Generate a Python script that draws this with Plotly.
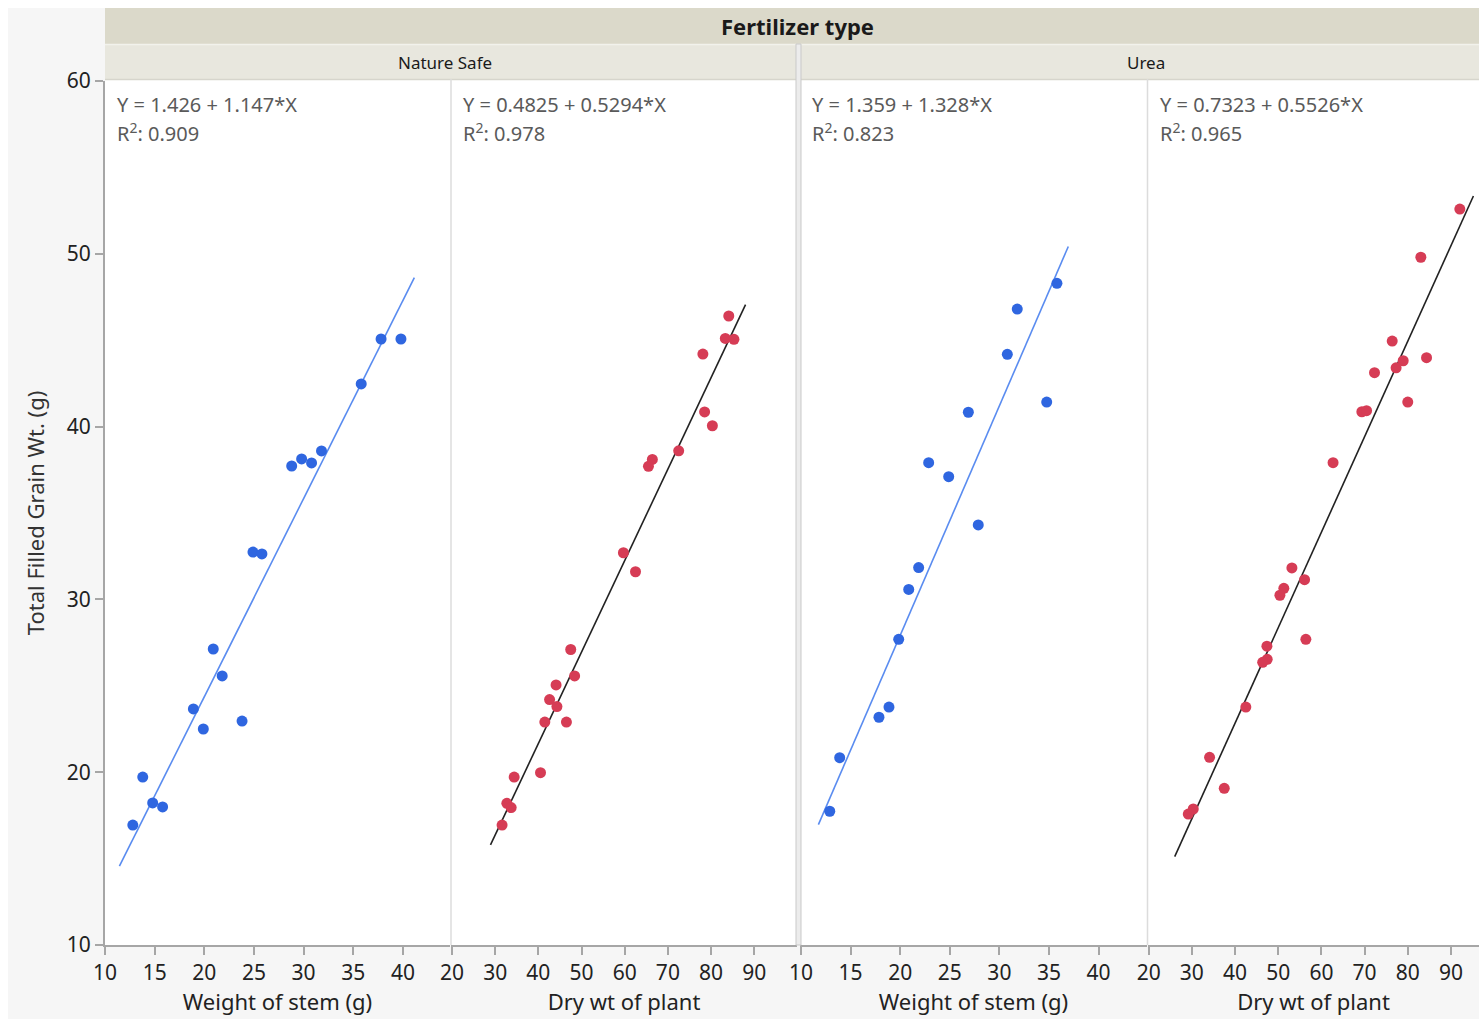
import plotly.graph_objects as go

# ---- data -------------------------------------------------------------
# Nature Safe: weight of stem (g) vs total filled grain weight (g)
ns_stem_x = [12.8, 13.8, 14.8, 15.8, 18.9, 19.9, 20.9, 21.8, 23.8, 24.9, 25.8,
             28.8, 29.8, 30.8, 31.8, 35.8, 37.8, 39.8]
ns_stem_y = [16.94, 19.72, 18.22, 17.99, 23.66, 22.5, 27.13, 25.57, 22.96, 32.74, 32.63,
             37.72, 38.13, 37.9, 38.59, 42.47, 45.07, 45.07]

# Nature Safe: dry weight of plant vs total filled grain weight (g)
ns_dry_x = [84.1, 83.3, 85.3, 78.1, 78.5, 80.3, 72.5, 66.4, 65.5, 59.7, 62.5,
            47.5, 48.4, 44.1, 42.6, 44.3, 41.5, 46.5, 34.4, 40.5, 32.7, 33.7, 31.6]
ns_dry_y = [46.4, 45.1, 45.05, 44.2, 40.85, 40.05, 38.6, 38.1, 37.7, 32.7, 31.6,
            27.1, 25.57, 25.05, 24.2, 23.8, 22.9, 22.9, 19.72, 19.97, 18.2, 17.95, 16.94]

# Urea: weight of stem (g) vs total filled grain weight (g)
ur_stem_x = [35.8, 31.8, 30.8, 34.77, 26.87, 22.87, 24.89, 27.87, 21.86, 20.86,
             19.85, 18.87, 17.86, 13.9, 12.9]
ur_stem_y = [48.29, 46.8, 44.18, 41.42, 40.83, 37.91, 37.1, 34.31, 31.84, 30.58,
             27.69, 23.77, 23.18, 20.84, 17.74]

# Urea: dry weight of plant vs total filled grain weight (g)
ur_dry_x = [92.06, 83.03, 76.4, 84.35, 78.94, 77.3, 72.3, 80.0, 69.37, 70.46, 62.7,
            53.17, 56.1, 51.3, 50.39, 56.4, 47.38, 47.45, 46.4, 42.5, 34.1, 37.5, 30.32, 29.17]
ur_dry_y = [52.59, 49.8, 44.95, 43.99, 43.81, 43.4, 43.12, 41.42, 40.86, 40.92, 37.91,
            31.82, 31.14, 30.64, 30.24, 27.69, 27.29, 26.53, 26.36, 23.77, 20.86, 19.07, 17.87, 17.58]

# Fitted line coefficients (intercept, slope) and R^2 per panel
fit_intercepts = [1.426, 0.4825, 1.359, 0.7323]
fit_slopes = [1.147, 0.5294, 1.328, 0.5526]
fit_r2 = [0.909, 0.978, 0.823, 0.965]
fit_labels = ["Y = 1.426 + 1.147*X", "Y = 0.4825 + 0.5294*X",
              "Y = 1.359 + 1.328*X", "Y = 0.7323 + 0.5526*X"]

group_labels = ["Nature Safe", "Urea"]
header_label = "Fertilizer type"
x_titles = ["Weight of stem (g)", "Dry wt of plant", "Weight of stem (g)", "Dry wt of plant"]
y_title = "Total Filled Grain Wt. (g)"
stem_ticks = [10, 15, 20, 25, 30, 35, 40]
dry_ticks = [20, 30, 40, 50, 60, 70, 80, 90]
y_ticks = [10, 20, 30, 40, 50, 60]

# ---- layout geometry ----------------------------------------------------
W, H = 1479, 1022


def fx(px):
    return px / W


def fy(py):
    return 1 - py / H


TOP, BOTTOM = 81, 945
panel_px = [(105, 450), (451, 797), (800, 1147), (1148, 1479)]
x_ranges = [[10, 44.74], [19.77, 99.9], [9.9, 44.88], [19.84, 96.5]]
x_tickvals = [stem_ticks, dry_ticks, stem_ticks, dry_ticks]

BLUE = "#2f66e0"
RED = "#d63c55"
LINE_BLUE = "#5a8cf0"
LINE_DARK = "#222222"
point_colors = [BLUE, RED, BLUE, RED]
line_colors = [LINE_BLUE, LINE_DARK, LINE_BLUE, LINE_DARK]

series = [(ns_stem_x, ns_stem_y), (ns_dry_x, ns_dry_y),
          (ur_stem_x, ur_stem_y), (ur_dry_x, ur_dry_y)]

fig = go.Figure()
FONT = "Noto Sans"
TICK_SIZE = 21
TITLE_SIZE = 22

for i, (xs, ys) in enumerate(series):
    xa = "x" if i == 0 else f"x{i + 1}"
    # least-squares line drawn over the data span, padded by 5% each side
    lo, hi = min(xs), max(xs)
    pad = 0.05 * (hi - lo)
    lx = [lo - pad, hi + pad]
    ly = [fit_intercepts[i] + fit_slopes[i] * v for v in lx]
    fig.add_trace(go.Scatter(x=lx, y=ly, mode="lines", xaxis=xa, yaxis="y",
                             line=dict(color=line_colors[i], width=1.6),
                             hoverinfo="skip", showlegend=False))
    fig.add_trace(go.Scatter(x=xs, y=ys, mode="markers", xaxis=xa, yaxis="y",
                             marker=dict(color=point_colors[i], size=11, line=dict(width=0)),
                             showlegend=False))

axis_common = dict(showgrid=False, zeroline=False, showline=True, linecolor="#a6a6a6",
                   linewidth=2, ticks="outside", ticklen=8, tickwidth=1.5, tickcolor="#a6a6a6",
                   tickfont=dict(family=FONT, size=TICK_SIZE, color="#222222"), anchor="y",
                   automargin=False)

layout = dict(width=W, height=H, margin=dict(l=0, r=0, t=0, b=0, autoexpand=False),
              paper_bgcolor="#ffffff", plot_bgcolor="#ffffff", showlegend=False)

for i in range(4):
    key = "xaxis" if i == 0 else f"xaxis{i + 1}"
    a, b = panel_px[i]
    layout[key] = dict(axis_common, domain=[fx(a), fx(b)], range=x_ranges[i],
                       tickvals=x_tickvals[i],
                       title=dict(text=x_titles[i], standoff=4,
                                  font=dict(family=FONT, size=TITLE_SIZE, color="#222222")))

layout["yaxis"] = dict(domain=[fy(BOTTOM), fy(TOP)], range=[10, 60], tickvals=y_ticks,
                       showgrid=False, zeroline=False, showline=True, linecolor="#a6a6a6",
                       linewidth=2, ticks="outside", ticklen=8, tickwidth=1.5, tickcolor="#a6a6a6",
                       tickfont=dict(family=FONT, size=TICK_SIZE, color="#222222"), anchor="x",
                       automargin=False,
                       title=dict(text=y_title, font=dict(family=FONT, size=TITLE_SIZE, color="#333333"),
                                  standoff=16))

fig.update_layout(**layout)

shapes = []
# light page background behind the whole report
shapes.append(dict(type="rect", xref="paper", yref="paper", x0=fx(8), x1=fx(W), y0=fy(1019), y1=fy(8),
                   fillcolor="#f6f6f6", line=dict(width=0), layer="below"))
# plotting area background
shapes.append(dict(type="rect", xref="paper", yref="paper", x0=fx(105), x1=fx(W), y0=fy(BOTTOM), y1=fy(79),
                   fillcolor="#ffffff", line=dict(width=0), layer="below"))
# header bands
shapes.append(dict(type="rect", xref="paper", yref="paper", x0=fx(105), x1=fx(W), y0=fy(44), y1=fy(8),
                   fillcolor="#dbd9ca", line=dict(width=0)))
for a, b in [(105, 796), (801, W)]:
    shapes.append(dict(type="rect", xref="paper", yref="paper", x0=fx(a), x1=fx(b), y0=fy(79), y1=fy(45),
                       fillcolor="#e8e7de", line=dict(width=0)))
shapes.append(dict(type="line", xref="paper", yref="paper", x0=fx(105), x1=fx(W), y0=fy(44.5), y1=fy(44.5),
                   line=dict(color="#f2f2ec", width=1.5)))
shapes.append(dict(type="line", xref="paper", yref="paper", x0=fx(105), x1=fx(W), y0=fy(79.5), y1=fy(79.5),
                   line=dict(color="#d6d5cc", width=1.5)))
# divider between fertilizer groups
shapes.append(dict(type="rect", xref="paper", yref="paper", x0=fx(796), x1=fx(801), y0=fy(BOTTOM), y1=fy(44),
                   fillcolor="#ececec", line=dict(color="#c9c9c9", width=1)))
# dividers between panels inside a group
for px in (451, 1147.5):
    shapes.append(dict(type="line", xref="paper", yref="paper", x0=fx(px), x1=fx(px), y0=fy(BOTTOM), y1=fy(79),
                       line=dict(color="#dcdcdc", width=1.5)))

annotations = []
annotations.append(dict(text=f"<b>{header_label}</b>", xref="paper", yref="paper", x=fx(797), y=fy(26),
                        showarrow=False, font=dict(family=FONT, size=22, color="#1a1a1a"),
                        xanchor="center", yanchor="middle"))
for label, cx in zip(group_labels, (445, 1146)):
    annotations.append(dict(text=label, xref="paper", yref="paper", x=fx(cx), y=fy(62),
                            showarrow=False, font=dict(family=FONT, size=17, color="#1a1a1a"),
                            xanchor="center", yanchor="middle"))
for i in range(4):
    a, _ = panel_px[i]
    annotations.append(dict(text=fit_labels[i], xref="paper", yref="paper", x=fx(a + 10), y=fy(104),
                            showarrow=False, font=dict(family=FONT, size=20, color="#5a5a5a"),
                            xanchor="left", yanchor="middle"))
    annotations.append(dict(text=f"R<sup>2</sup>: {fit_r2[i]:.3f}", xref="paper", yref="paper",
                            x=fx(a + 10), y=fy(133), showarrow=False,
                            font=dict(family=FONT, size=20, color="#5a5a5a"),
                            xanchor="left", yanchor="middle"))

fig.update_layout(shapes=shapes, annotations=annotations)
fig.write_html("out.html")
